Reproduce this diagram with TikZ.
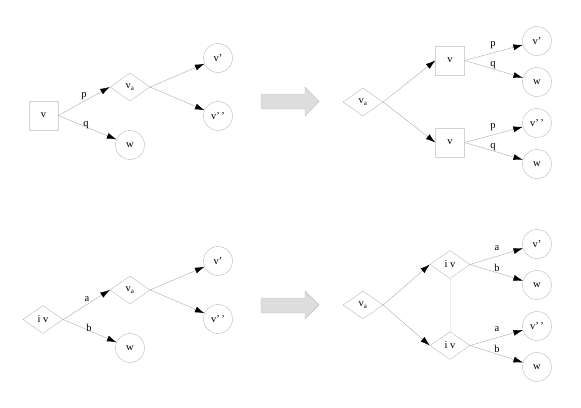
\documentclass[tikz,border=0pt]{standalone}
\usepackage{fontspec}
\setmainfont{Liberation Serif}
\usepackage{tikz}
\usetikzlibrary{arrows.meta,shapes.geometric}

\begin{document}
\begin{tikzpicture}[x=1pt, y=-1pt, font=\fontsize{10.5}{12}\selectfont,
    sq/.style={draw=gray!35, rectangle, minimum size=29pt, inner sep=0pt},
    dia/.style={draw=gray!55, diamond, minimum width=40pt, minimum height=28pt, inner sep=0pt},
    circ/.style={draw=gray!55, circle, minimum size=29pt, inner sep=0pt},
    edge/.style={draw=gray!65, -{Latex[length=9.5pt,width=6pt,color=black]}},
    bigarrow/.style={fill=gray!27, draw=gray!50}]
    \useasboundingbox (0,0) rectangle (581,407);
    % top left
    \node[sq]   (tlv)  at (43.5,115.5) {v};
    \node[dia]  (tlva) at (130,87) {v\textsubscript{\scriptsize a}};
    \node[circ] (tlv1) at (218,58) {v’};
    \node[circ] (tlv2) at (218,116) {v’\,’};
    \node[circ] (tlw)  at (130,145) {w};
    \draw[edge] (tlv.east) -- (tlva.west);
    \draw[edge] (tlv.east) -- (tlw);
    \draw[edge] (tlva.east) -- (tlv1);
    \draw[edge] (tlva.east) -- (tlv2);
    \node at (84,96) {p};
    \node at (86,125) {q};
    \draw[bigarrow] (261,94) -- (305,94) -- (305,87) -- (319,101.5)
      -- (305,116) -- (305,109) -- (261,109) -- cycle;
    % top right
    \node[dia]  (trva) at (363,102) {v\textsubscript{\scriptsize a}};
    \node[sq]   (trv1) at (450,60.5) {v};
    \node[sq]   (trv2) at (450,142.5) {v};
    \node[circ] (trv3) at (537,41) {v’};
    \node[circ] (trw1) at (537,82) {w};
    \node[circ] (trv4) at (537,123) {v’\,’};
    \node[circ] (trw2) at (537,164) {w};
    \draw[edge] (trva.east) -- (trv1.west);
    \draw[edge] (trva.east) -- (trv2.west);
    \draw[edge] (trv1.east) -- (trv3);
    \draw[edge] (trv1.east) -- (trw1);
    \draw[edge] (trv2.east) -- (trv4);
    \draw[edge] (trv2.east) -- (trw2);
    \node at (493,45) {p};
    \node at (493,65) {q};
    \node at (493,127) {p};
    \node at (493,147) {q};
    % bottom left
    \node[dia]  (bliv) at (43,319.5) {i v};
    \node[dia]  (blva) at (130,290) {v\textsubscript{\scriptsize a}};
    \node[circ] (blv1) at (218,261) {v’};
    \node[circ] (blv2) at (218,319) {v’\,’};
    \node[circ] (blw)  at (130,348) {w};
    \draw[edge] (bliv.east) -- (blva.west);
    \draw[edge] (bliv.east) -- (blw);
    \draw[edge] (blva.east) -- (blv1);
    \draw[edge] (blva.east) -- (blv2);
    \node at (87,299) {a};
    \node at (89,328) {b};
    \draw[bigarrow] (261,298) -- (305,298) -- (305,291) -- (319,305)
      -- (305,319) -- (305,313) -- (261,313) -- cycle;
    % bottom right
    \node[dia]  (brva) at (363,305) {v\textsubscript{\scriptsize a}};
    \node[dia]  (briv1) at (450,264.5) {i v};
    \node[dia]  (briv2) at (450,345.5) {i v};
    \node[circ] (brv1) at (537,244) {v’};
    \node[circ] (brw1) at (537,285) {w};
    \node[circ] (brv2) at (537,326) {v’\,’};
    \node[circ] (brw2) at (537,367) {w};
    \draw[edge] (brva.east) -- (briv1.west);
    \draw[edge] (brva.east) -- (briv2.west);
    \draw[edge] (briv1.east) -- (brv1);
    \draw[edge] (briv1.east) -- (brw1);
    \draw[edge] (briv2.east) -- (brv2);
    \draw[edge] (briv2.east) -- (brw2);
    \draw[gray!30, dash pattern=on 1pt off 1pt] (briv1.south) -- (briv2.north);
    \node at (497,248) {a};
    \node at (497,268) {b};
    \node at (497,329) {a};
    \node at (497,349) {b};
\end{tikzpicture}
\end{document}
